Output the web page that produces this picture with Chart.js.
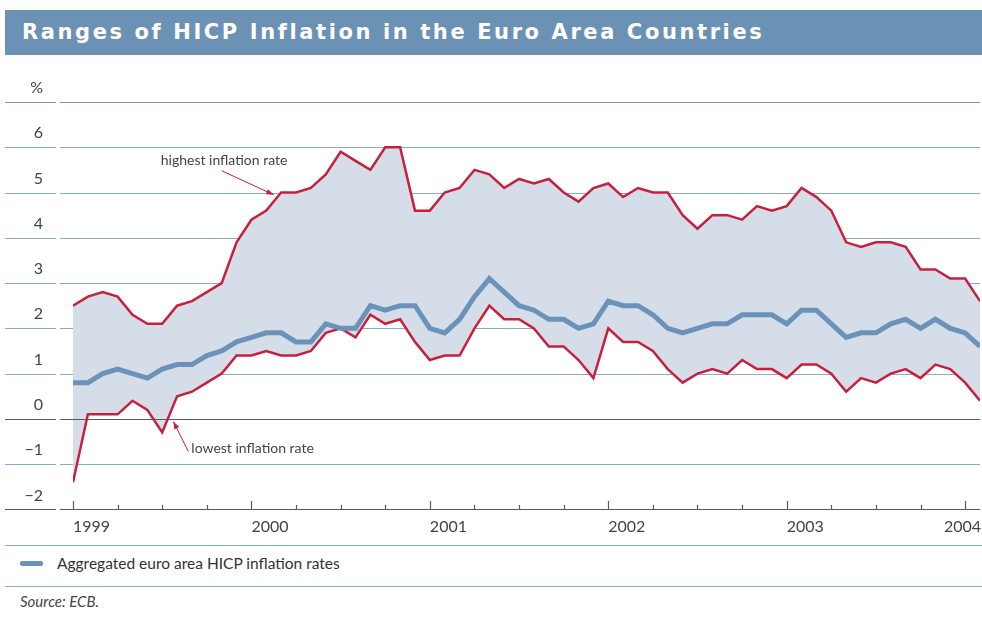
<!DOCTYPE html>
<html>
<head>
<meta charset="utf-8">
<script src="https://cdn.jsdelivr.net/npm/chart.js"></script>
<style>
  body { margin: 0; background: #fff; width: 982px; height: 617px; position: relative; overflow: hidden; font-family: Lato, "Open Sans", sans-serif; }
  #title { position: absolute; left: 5px; top: 10px; width: 977px; height: 45px; background: #6b92b5; color: #fff;
           font: bold 21px "DejaVu Sans", sans-serif; letter-spacing: 2.6px; line-height: 45px; padding-left: 17px; box-sizing: border-box; white-space: nowrap; }
  #wrap { position: absolute; left: 0; top: 0; width: 982px; height: 549px; }
  .rule { position: absolute; left: 5px; width: 977px; height: 1px; background: #8aabcb; }
  #swatch { position: absolute; left: 20px; top: 561px; width: 23px; height: 5px; background: #6b92b8; border-radius: 2px; }
  #legtext { position: absolute; left: 57px; top: 554px; font-size: 15.5px; color: #333; }
  #source { position: absolute; left: 20px; top: 592px; font-size: 15px; font-style: italic; color: #444; }
</style>
</head>
<body>
<div id="title">Ranges of HICP Inflation in the Euro Area Countries</div>
<div id="wrap"><canvas id="grafica" width="982" height="549"></canvas></div>
<div class="rule" style="top:545px"></div>
<div id="swatch"></div>
<div id="legtext">Aggregated euro area HICP inflation rates</div>
<div class="rule" style="top:586px"></div>
<div id="source">Source: ECB.</div>
<script>
// months Jan 1999 .. Feb 2004, index 0..61
let meses = [];
for (let i = 0; i < 62; i++) meses.push(i);

let años = ["1999", "2000", "2001", "2002", "2003", "2004"];

let maxima = [
    2.5, 2.7, 2.8, 2.7, 2.3, 2.1, 2.1, 2.5, 2.6, 2.8, 3.0, 3.9,
    4.4, 4.6, 5.0, 5.0, 5.1, 5.4, 5.9, 5.7, 5.5, 6.0, 6.0, 4.6,
    4.6, 5.0, 5.1, 5.5, 5.4, 5.1, 5.3, 5.2, 5.3, 5.0, 4.8, 5.1,
    5.2, 4.9, 5.1, 5.0, 5.0, 4.5, 4.2, 4.5, 4.5, 4.4, 4.7, 4.6,
    4.7, 5.1, 4.9, 4.6, 3.9, 3.8, 3.9, 3.9, 3.8, 3.3, 3.3, 3.1,
    3.1, 2.6
];

let agregada = [
    0.8, 0.8, 1.0, 1.1, 1.0, 0.9, 1.1, 1.2, 1.2, 1.4, 1.5, 1.7,
    1.8, 1.9, 1.9, 1.7, 1.7, 2.1, 2.0, 2.0, 2.5, 2.4, 2.5, 2.5,
    2.0, 1.9, 2.2, 2.7, 3.1, 2.8, 2.5, 2.4, 2.2, 2.2, 2.0, 2.1,
    2.6, 2.5, 2.5, 2.3, 2.0, 1.9, 2.0, 2.1, 2.1, 2.3, 2.3, 2.3,
    2.1, 2.4, 2.4, 2.1, 1.8, 1.9, 1.9, 2.1, 2.2, 2.0, 2.2, 2.0,
    1.9, 1.6
];

let minima = [
    -1.4, 0.1, 0.1, 0.1, 0.4, 0.2, -0.3, 0.5, 0.6, 0.8, 1.0, 1.4,
    1.4, 1.5, 1.4, 1.4, 1.5, 1.9, 2.0, 1.8, 2.3, 2.1, 2.2, 1.7,
    1.3, 1.4, 1.4, 2.0, 2.5, 2.2, 2.2, 2.0, 1.6, 1.6, 1.3, 0.9,
    2.0, 1.7, 1.7, 1.5, 1.1, 0.8, 1.0, 1.1, 1.0, 1.3, 1.1, 1.1,
    0.9, 1.2, 1.2, 1.0, 0.6, 0.9, 0.8, 1.0, 1.1, 0.9, 1.2, 1.1,
    0.8, 0.4
];

const rojo = "#c8203c";
const azul = "#6b92b8";
const rejilla = "#8aabcb";
const gris = "#5a5a5a";

function linea(ctx, x1, x2, y) {
    ctx.beginPath();
    ctx.moveTo(x1, y);
    ctx.lineTo(x2, y);
    ctx.stroke();
}

function flecha(ctx, x1, y1, x2, y2) {
    ctx.beginPath();
    ctx.moveTo(x1, y1);
    ctx.lineTo(x2, y2);
    ctx.stroke();
    const a = Math.atan2(y2 - y1, x2 - x1);
    ctx.beginPath();
    ctx.moveTo(x2, y2);
    ctx.lineTo(x2 - 8 * Math.cos(a - 0.35), y2 - 8 * Math.sin(a - 0.35));
    ctx.lineTo(x2 - 8 * Math.cos(a + 0.35), y2 - 8 * Math.sin(a + 0.35));
    ctx.closePath();
    ctx.fill();
}

const decoracion = {
    id: "decoracion",
    beforeDraw(chart) {
        const { ctx, chartArea, scales: { y } } = chart;
        ctx.save();
        ctx.lineWidth = 1;
        for (let v = -1; v <= 7; v++) {
            if (v === 0) continue;
            const py = Math.round(y.getPixelForValue(v)) + 0.5;
            ctx.strokeStyle = v === 7 ? "#7d96b1" : rejilla;
            linea(ctx, 5, 56, py);
            linea(ctx, 60, chartArea.right, py);
        }
        ctx.restore();
    },
    beforeDatasetsDraw(chart) {
        const { ctx, chartArea, scales: { x, y } } = chart;
        ctx.save();
        ctx.lineWidth = 1.2;
        ctx.strokeStyle = gris;
        [0, -2].forEach(function (v) {
            const py = Math.round(y.getPixelForValue(v)) + 0.5;
            linea(ctx, 5, 56, py);
            linea(ctx, 60, chartArea.right, py);
        });
        const base = Math.round(y.getPixelForValue(-2));
        for (let m = 0; m <= 61; m += 3) {
            const px = Math.round(x.getPixelForValue(m)) + 0.5;
            ctx.beginPath();
            ctx.moveTo(px, base);
            ctx.lineTo(px, base - (m % 12 === 0 ? 8 : 4));
            ctx.stroke();
        }
        ctx.restore();
    },
    afterDatasetsDraw(chart) {
        const { ctx, scales: { x, y } } = chart;
        ctx.save();
        // year labels
        ctx.font = "16px Lato";
        ctx.fillStyle = "#444";
        ctx.textBaseline = "middle";
        const base = y.getPixelForValue(-2);
        años.forEach(function (a, i) {
            let px = x.getPixelForValue(i * 12);
            const w = ctx.measureText(a).width;
            if (px + w > chart.width - 1) px = chart.width - 1 - w;
            ctx.fillText(a, px, base + 17);
        });
        // annotations
        ctx.font = "14px Lato";
        ctx.fillStyle = "#444";
        ctx.fillText("highest inflation rate", x.getPixelForValue(13.5) - 113, y.getPixelForValue(4.95) - 34);
        ctx.fillText("lowest inflation rate", x.getPixelForValue(6.75) + 18, y.getPixelForValue(-0.06) + 27);
        ctx.strokeStyle = rojo;
        ctx.fillStyle = rojo;
        ctx.lineWidth = 1;
        flecha(ctx, x.getPixelForValue(13.5) - 52, y.getPixelForValue(4.95) - 24, x.getPixelForValue(13.5), y.getPixelForValue(4.95));
        flecha(ctx, x.getPixelForValue(6.75) + 15, y.getPixelForValue(-0.06) + 30, x.getPixelForValue(6.75), y.getPixelForValue(-0.06));
        ctx.restore();
    }
};

var grafica = new Chart(document.getElementById("grafica").getContext("2d"), {
    type: "line",
    data: {
        labels: meses,
        datasets: [
            {
                label: "Aggregated euro area HICP inflation rates",
                data: agregada,
                borderColor: azul,
                borderWidth: 5,
                pointRadius: 0,
                fill: false,
            },
            {
                label: "highest inflation rate",
                data: maxima,
                borderColor: rojo,
                borderWidth: 2.5,
                pointRadius: 0,
                fill: false,
            },
            {
                label: "lowest inflation rate",
                data: minima,
                borderColor: rojo,
                borderWidth: 2.5,
                pointRadius: 0,
                fill: 1,
                backgroundColor: "#d5dee8",
            },
        ],
    },
    options: {
        responsive: false,
        animation: false,
        devicePixelRatio: 1,
        layout: { padding: { top: 102, right: 2, left: 0, bottom: 0 } },
        scales: {
            x: {
                type: "linear",
                min: 0,
                max: 61,
                grid: { display: false, drawTicks: false },
                border: { display: false },
                ticks: { display: false, stepSize: 3 },
                afterFit: function (s) { s.height = 31; },
            },
            y: {
                min: -2,
                max: 7,
                grid: { display: false, drawTicks: false },
                border: { display: false },
                ticks: {
                    stepSize: 1,
                    padding: 30,
                    labelOffset: -14,
                    color: "#444",
                    font: { family: "Lato", size: 16 },
                    callback: function (v) {
                        if (v === 7) return "%";
                        if (v < 0) return "\u2212" + Math.abs(v);
                        return String(v);
                    }
                },
                afterFit: function (s) { s.width = 73; },
            }
        },
        plugins: {
            legend: { display: false },
            tooltip: { enabled: false },
            filler: { drawTime: "beforeDatasetsDraw" }
        }
    },
    plugins: [decoracion]
});
</script>
</body>
</html>
